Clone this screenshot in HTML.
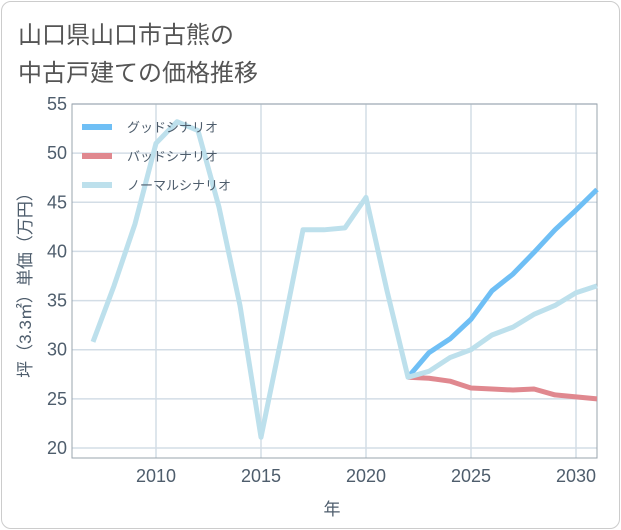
<!DOCTYPE html>
<html><head><meta charset="utf-8"><style>
body{margin:0;background:#fff;font-family:"Liberation Sans","Noto Sans CJK JP",sans-serif}
#card{position:absolute;left:1px;top:1px;width:617px;height:526px;border:1px solid #ccc;border-radius:10px;background:#fff}
.t{position:absolute;left:18px;font-size:24px;color:#555}
</style></head><body>
<div id="card"></div>
<div class="t" style="top:15px">山口県山口市古熊の</div>
<div class="t" style="top:53px">中古戸建ての価格推移</div>
<svg id="chart" width="621" height="530" style="position:absolute;left:0;top:0"></svg>
<script>
const years=[2007,2008,2009,2010,2011,2012,2013,2014,2015,2016,2017,2018,2019,2020,2021,2022,2023,2024,2025,2026,2027,2028,2029,2030,2031];
const normal=[30.8,36.5,42.8,51,53.2,52.3,44.5,34.5,21.1,31.5,42.2,42.2,42.4,45.5,36,27.2,27.8,29.2,30,31.5,32.3,33.6,34.5,35.8,36.5];
const futureYears=[2022,2023,2024,2025,2026,2027,2028,2029,2030,2031];
const good=[27.2,29.7,31.1,33.1,36,37.7,39.9,42.2,44.2,46.3];
const bad=[27.2,27.1,26.8,26.1,26.0,25.9,26.0,25.4,25.2,25.0];
const yTicks=[20,25,30,35,40,45,50,55];
const xTicks=[2010,2015,2020,2025,2030];
const X0=72,X1=597,Y0=104,Y1=458;
const TC='#4e5d6c';
const xs=v=>X0+(v-2006)*(X1-X0)/25;
const ys=v=>104+(55-v)*(448-104)/35;
const svg=document.getElementById('chart');const NS='http://www.w3.org/2000/svg';
function mk(t,a,p){const e=document.createElementNS(NS,t);for(const k in a)e.setAttribute(k,a[k]);(p||svg).appendChild(e);return e;}
yTicks.forEach(v=>{const l=mk('line',{x1:X0,x2:X1,y1:ys(v),y2:ys(v),stroke:'#d3dde6','stroke-width':1.5});


const t=mk('text',{x:67,y:ys(v)+6,'text-anchor':'end','font-size':18,fill:TC});t.textContent=v;

});
xTicks.forEach(v=>{const l=mk('line',{x1:xs(v),x2:xs(v),y1:Y0,y2:Y1,stroke:'#d3dde6','stroke-width':1.5});


const t=mk('text',{x:xs(v),y:482,'text-anchor':'middle','font-size':18,fill:TC});t.textContent=v;

});
const fr=mk('rect',{x:X0,y:Y0,width:X1-X0,height:Y1-Y0,fill:'none',stroke:'#9aa4ad','stroke-width':1});


function line(xv,yv,c,n){const p=mk('polyline',{points:xv.map((x,i)=>xs(x)+','+ys(yv[i])).join(' '),fill:'none',stroke:c,'stroke-width':5,'stroke-linejoin':'round'});

}
line(futureYears,bad,'#e0888f','bad-scenario-line');
line(futureYears,good,'#6fbff5','good-scenario-line');
line(years,normal,'#bde0ec','normal-scenario-line');
const leg=[['グッドシナリオ','#6fbff5'],['バッドシナリオ','#e0888f'],['ノーマルシナリオ','#bde0ec']];
leg.forEach((d,i)=>{const y=127+i*29;
const r=mk('rect',{x:82,y:y-3,width:30,height:6,fill:d[1]});


const t=mk('text',{x:127,y:y+5,'font-size':13,fill:TC});t.textContent=d[0];

});
const yl=mk('text',{transform:'translate(31,281) rotate(-90)','text-anchor':'middle','font-size':17,fill:TC});yl.textContent='坪（3.3㎡）単価（万円）';


const xl=mk('text',{x:332,y:515,'text-anchor':'middle','font-size':17,fill:TC});xl.textContent='年';


</script>
</body></html>
